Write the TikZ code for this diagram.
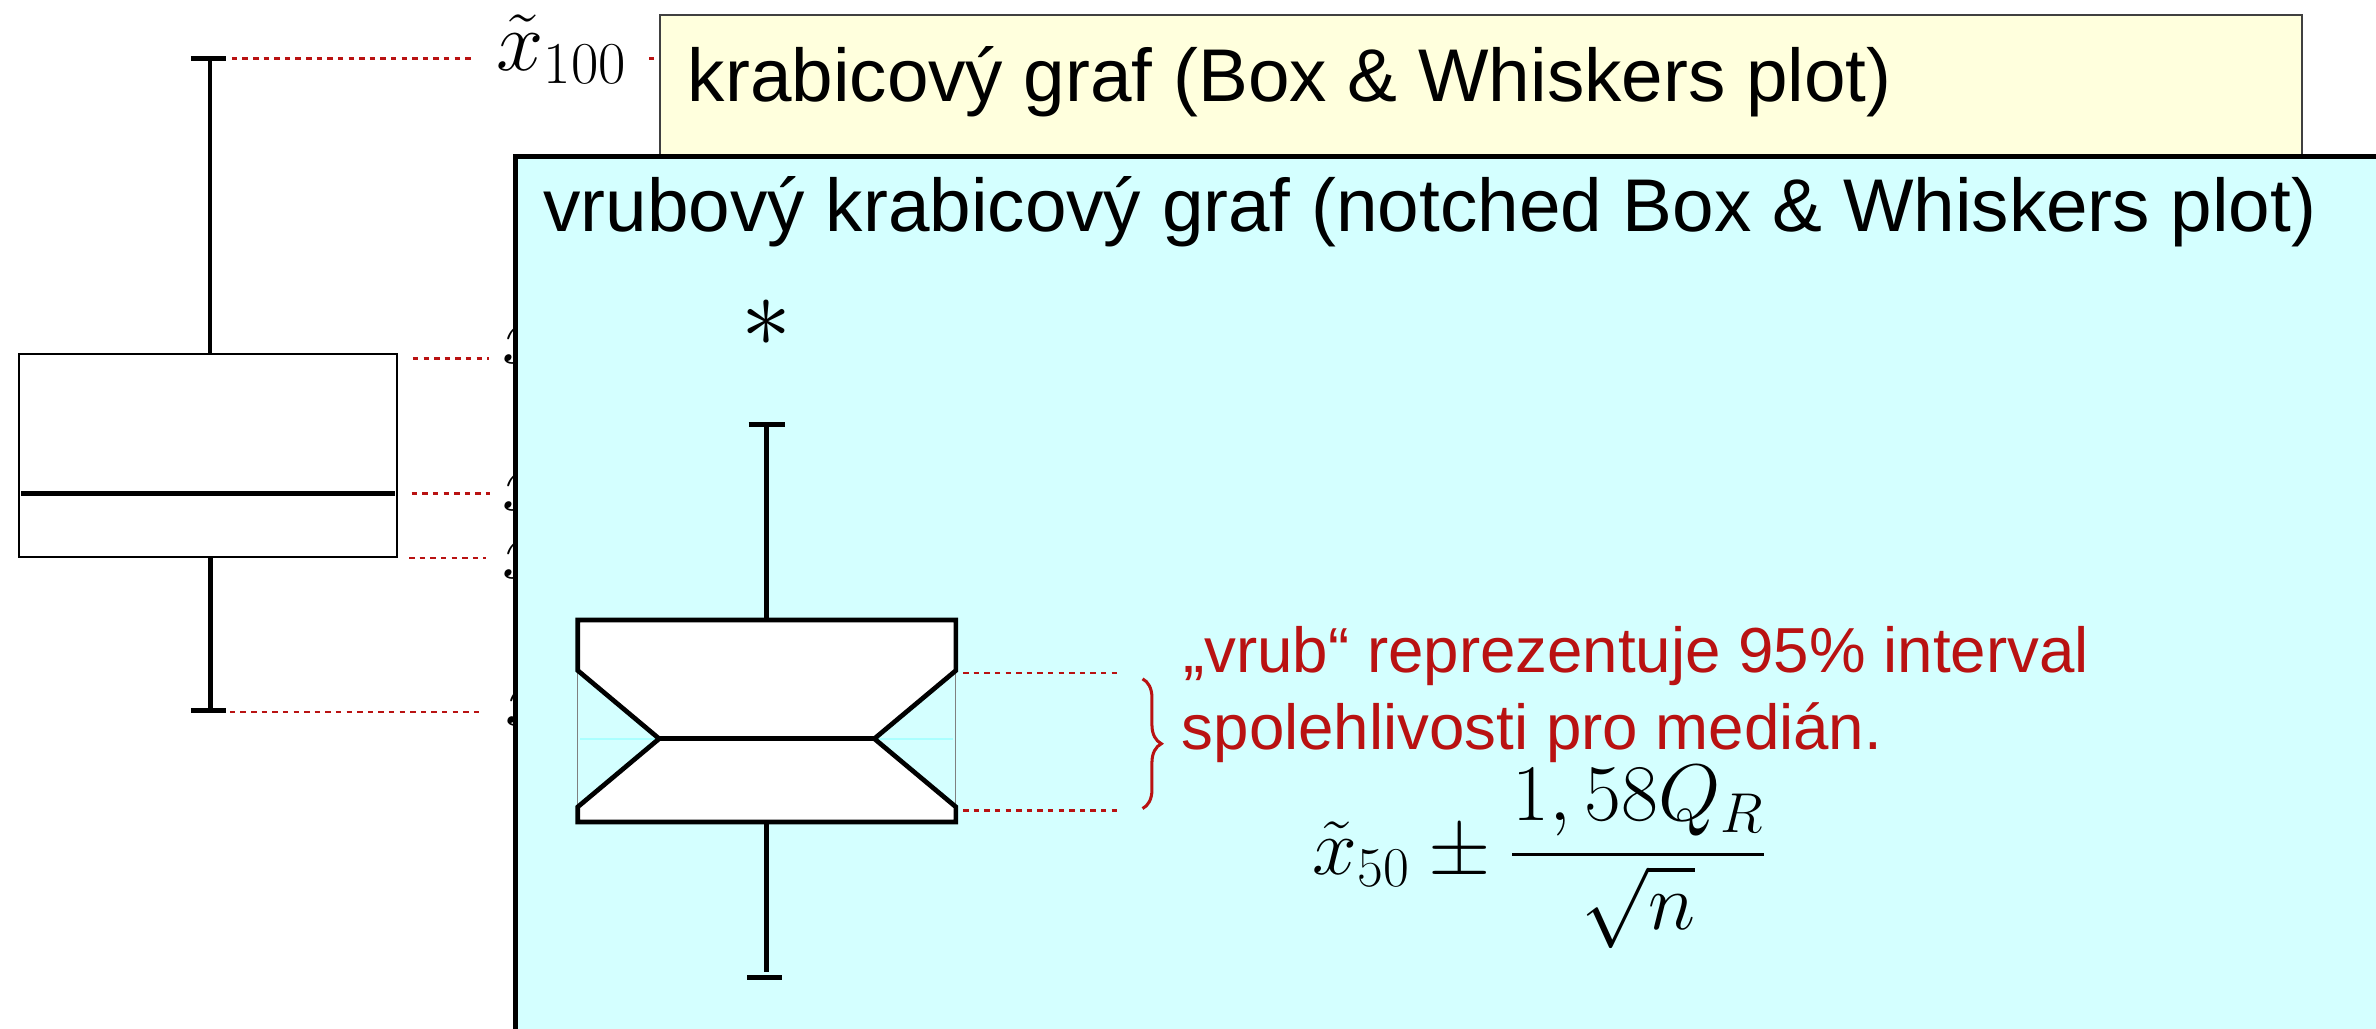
\RequirePackage{fix-cm}
\documentclass[tikz,border=0pt]{standalone}
\usepackage{amsmath}
\usepackage{fontspec}
\newfontfamily\helv{Liberation Sans}
\usetikzlibrary{decorations.pathreplacing}
\definecolor{notered}{RGB}{185,18,18}
\definecolor{boxyellow}{RGB}{255,255,221}
\definecolor{boxcyan}{RGB}{212,255,255}
\definecolor{notchcyan}{RGB}{170,255,255}
\tikzset{
  thinbox/.style={draw=black, line width=0.65pt},
  thickln/.style={draw=black, line width=1.55pt},
  capln/.style={draw=black, line width=1.65pt},
  dotline/.style={draw=notered, line width=0.8pt, dash pattern=on 1.8pt off 1.7pt},
  titletext/.style={font=\helv\fontsize{24.65}{29}\selectfont, inner sep=0pt, anchor=base west},
  notetext/.style={font=\helv\fontsize{21}{25}\selectfont, text=notered, inner sep=0pt, anchor=base west},
  mathlbl/.style={font=\fontsize{28}{33}\selectfont, inner sep=0pt, anchor=base west},
  mathformula/.style={font=\fontsize{26.5}{32}\selectfont, inner sep=0pt, anchor=base west},
}
\begin{document}
\begin{tikzpicture}[x=0.5pt,y=-0.5pt]
\clip (0,0) rectangle (1568,679);
\fill[white] (0,0) rectangle (1568,679);

% ---- classic box plot (left) ----
\draw[thinbox, fill=white] (12.4,233.9) rectangle (262.3,367.5);
\draw[thickln] (14,325.8) -- (260.8,325.8);
\draw[thickln] (138.5,38.5) -- (138.5,233.9);
\draw[thickln] (139,367.5) -- (139,467.5);
\draw[capln] (126,38.5) -- (149,38.5);
\draw[capln] (126,468.6) -- (149,468.6);

% reference points of the dotted leaders
\coordinate (d100) at (153,38.5);
\coordinate (d75) at (272.5,236.5);
\coordinate (d50) at (271.7,325.8);
\coordinate (d25) at (270,368.4);
\coordinate (d0) at (151.7,470);

% labels (partly hidden behind the cyan panel)
\node[mathlbl] (l100) at (327.4,46.7) {$\tilde{x}_{100}$};
\node[mathlbl] (l75) at (331.5,240) {$\tilde{x}_{75}$};
\node[mathlbl] (l50) at (331.5,337) {$\tilde{x}_{50}$};
\node[mathlbl] (l25) at (331.5,382) {$\tilde{x}_{25}$};
\node[mathlbl] (l0) at (333.5,479) {$\tilde{x}_{0}$};

% yellow box
\node[draw=black!75, line width=0.6pt, fill=boxyellow, anchor=north west,
      minimum width=541.8pt, minimum height=100pt, inner sep=0pt] (ybox) at (435.2,9.2) {};
\node[titletext] (ytitle) at (453.5,67) {krabicový graf (Box \& Whiskers plot)};

\draw[dotline] (d100) -- ([xshift=-7.5pt]d100 -| l100.west);
\draw[dotline] ([xshift=7pt]d100 -| l100.east) -- (d100 -| ybox.west);
\draw[dotline] (d75) -- ++(50,0);
\draw[dotline] (d50) -- ++(51.5,0);
\draw[dotline] (d25) -- ++(51,0);
\draw[dotline] (d0) -- ++(166,0);

% cyan box
\node[draw=black, line width=1.65pt, fill=boxcyan, anchor=north west,
      minimum width=614.6pt, minimum height=350pt, inner sep=0pt] (cbox) at (338.8,101.8) {};
\node[titletext] (ctitle) at (358.3,152.9) {vrubový krabicový graf (notched Box \& Whiskers plot)};

% ---- notched box plot ----
\node[font=\fontsize{33}{38}\selectfont, inner sep=0pt] (outlier) at (506,213) {$\ast$};
\fill[white] (381.3,409.2) -- (630.8,409.2) -- (630.8,442.5) -- (577,487.5) -- (630.8,532.5)
  -- (630.8,542.5) -- (381.3,542.5) -- (381.3,532.5) -- (435,487.5) -- (381.3,442.5) -- cycle;
\draw[gray, line width=0.3pt] (381.3,442.5) -- (381.3,532.5);
\draw[gray, line width=0.3pt] (630.8,442.5) -- (630.8,532.5);
\draw[notchcyan, line width=0.8pt] (383,487.5) -- (435,487.5);
\draw[notchcyan, line width=0.8pt] (577,487.5) -- (629,487.5);
\draw[thickln, line join=miter] (381.3,409.2) -- (630.8,409.2) -- (630.8,442.5) -- (577,487.5) -- (630.8,532.5)
  -- (630.8,542.5) -- (381.3,542.5) -- (381.3,532.5) -- (435,487.5) -- (381.3,442.5) -- cycle;
\draw[thickln] (435,487.5) -- (577,487.5);
\draw[thickln] (506,409.2) -- (506,280);
\draw[capln] (494,280) -- (518,280);
\draw[thickln] (506,542.5) -- (506,641.6);
\draw[capln] (493,645.3) -- (516,645.3);

% notch leaders and brace
\coordinate (nU) at (635.6,444);
\coordinate (nL) at (635.6,535);
\coordinate (bU) at (754,448);
\coordinate (bL) at (754,533.6);
\draw[dotline] (nU) -- ++(103.4,0);
\draw[dotline] (nL) -- ++(103.4,0);
\draw[notered, line width=1pt, decorate, decoration={brace, amplitude=6.2pt}] (bU) -- (bL);

% note text and formula
\node[notetext] (note1) at (780.5,444) {„vrub“ reprezentuje 95\% interval};
\node[notetext] (note2) at (779.5,494.5) {spolehlivosti pro medián.};
\node[mathformula] (ci) at (866,577) {$\displaystyle\tilde{x}_{50}\pm\frac{1,58Q_R}{\sqrt{n}}$};
\end{tikzpicture}
\end{document}
